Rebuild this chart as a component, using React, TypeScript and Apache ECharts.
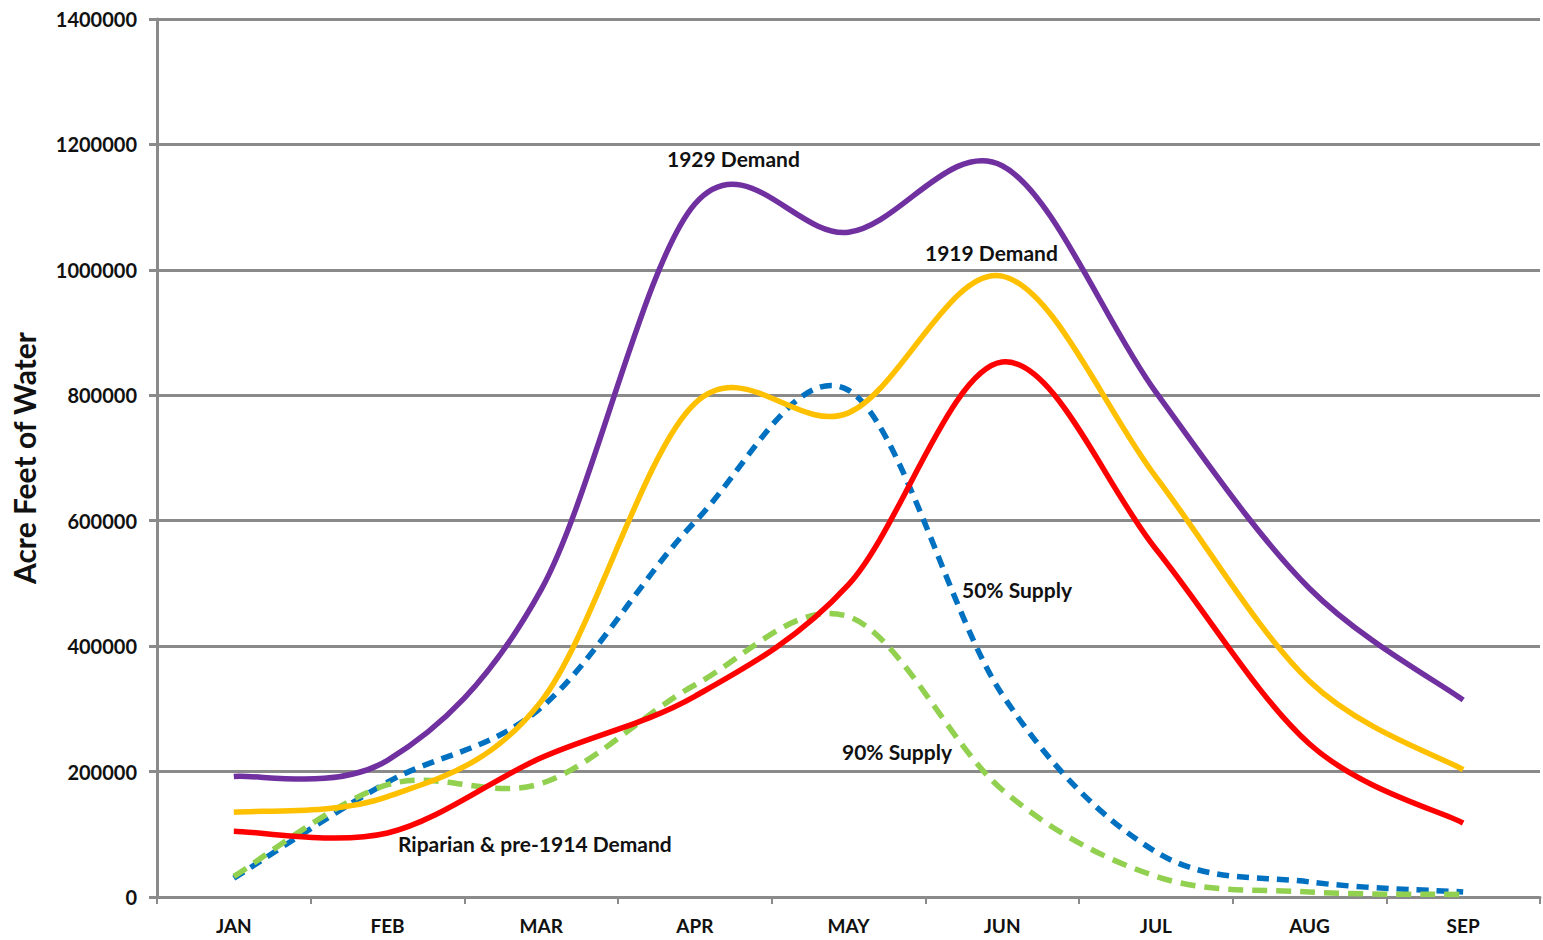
import React, { useEffect, useRef } from "react";
import * as echarts from "echarts";

const months = ["JAN", "FEB", "MAR", "APR", "MAY", "JUN", "JUL", "AUG", "SEP"];
const yTicks = [0, 200000, 400000, 600000, 800000, 1000000, 1200000, 1400000];
const demand1929 = [192000, 218000, 490000, 1105000, 1060000, 1166000, 805000, 492000, 314000];
const demand1919 = [135000, 160000, 312000, 787000, 772000, 990000, 670000, 344000, 203000];
const riparian = [105000, 102000, 222000, 320000, 498000, 853000, 555000, 244000, 118000];
const supply50 = [30000, 183000, 302000, 598000, 808000, 323000, 72000, 24000, 8000];
const supply90 = [33000, 179000, 181000, 338000, 447000, 171000, 33000, 8000, 4000];

const FONT = "Lato, 'Liberation Sans', sans-serif";

// Excel-like smoothed line (Catmull-Rom through the data points, via the chart's own axes)
function smoothSeries(name: string, values: number[], color: string, dash: number[] | null, z: number) {
  return {
    type: "custom",
    name,
    z,
    clip: false,
    data: values.map((v, i) => [i, v]),
    encode: { x: 0, y: 1 },
    renderItem: (params: any, api: any) => {
      if (params.dataIndex !== 0) return null;
      const pts = values.map((v, i) => api.coord([i, v]));
      let d = `M${pts[0][0]},${pts[0][1]}`;
      for (let i = 0; i < pts.length - 1; i++) {
        const p0 = pts[Math.max(i - 1, 0)];
        const p1 = pts[i];
        const p2 = pts[i + 1];
        const p3 = pts[Math.min(i + 2, pts.length - 1)];
        const c1x = p1[0] + (p2[0] - p0[0]) / 6;
        const c1y = p1[1] + (p2[1] - p0[1]) / 6;
        const c2x = p2[0] - (p3[0] - p1[0]) / 6;
        const c2y = p2[1] - (p3[1] - p1[1]) / 6;
        d += ` C${c1x},${c1y} ${c2x},${c2y} ${p2[0]},${p2[1]}`;
      }
      return {
        type: "path",
        shape: { pathData: d },
        style: {
          fill: "none",
          stroke: color,
          lineWidth: 5.5,
          lineDash: dash || undefined,
          lineCap: "butt",
          lineJoin: "round",
        },
      };
    },
  };
}

export default function App() {
  const ref = useRef<HTMLDivElement>(null);
  useEffect(() => {
    if (!ref.current) return;
    const chart = echarts.init(ref.current, undefined, { renderer: "svg" });
    const labelStyle = { fontFamily: FONT, fontWeight: "bold", fontSize: 21, fill: "#111" };
    chart.setOption({
      animation: false,
      backgroundColor: "#ffffff",
      grid: { left: 157, right: 3, top: 19, bottom: 43, containLabel: false, outerBoundsMode: "none" },
      xAxis: {
        type: "category",
        data: months,
        boundaryGap: true,
        axisLine: { lineStyle: { color: "#8a8a8a", width: 3 } },
        axisTick: { show: true, length: 7, lineStyle: { color: "#8a8a8a", width: 2 } },
        axisLabel: { margin: 19, fontFamily: FONT, fontWeight: "bold", fontSize: 19, color: "#111" },
      },
      yAxis: {
        type: "value",
        min: yTicks[0],
        max: yTicks[yTicks.length - 1],
        interval: yTicks[1] - yTicks[0],
        name: "Acre Feet of Water",
        nameLocation: "middle",
        nameGap: 118,
        nameTextStyle: { fontFamily: FONT, fontWeight: "bold", fontSize: 30, color: "#111" },
        axisLine: { show: true, lineStyle: { color: "#8a8a8a", width: 3 } },
        axisTick: { show: true, length: 8, lineStyle: { color: "#8a8a8a", width: 3 } },
        splitLine: { show: true, lineStyle: { color: "#8a8a8a", width: 3 } },
        axisLabel: {
          margin: 20,
          fontFamily: FONT,
          fontWeight: "bold",
          fontSize: 20,
          color: "#111",
          formatter: (v: number) => String(v),
        },
      },
      series: [
        smoothSeries("50% Supply", supply50, "#0070C0", [12, 8], 2),
        smoothSeries("90% Supply", supply90, "#92D050", [15, 9], 3),
        smoothSeries("1929 Demand", demand1929, "#7030A0", null, 4),
        smoothSeries("1919 Demand", demand1919, "#FFC000", null, 5),
        smoothSeries("Riparian & pre-1914 Demand", riparian, "#FF0000", null, 6),
      ],
      graphic: [
        { type: "text", left: 667, top: 148, style: { ...labelStyle, text: "1929 Demand" }, z: 10 },
        { type: "text", left: 925, top: 242, style: { ...labelStyle, text: "1919 Demand" }, z: 10 },
        { type: "text", left: 962, top: 579, style: { ...labelStyle, text: "50% Supply" }, z: 10 },
        { type: "text", left: 842, top: 741, style: { ...labelStyle, text: "90% Supply" }, z: 10 },
        { type: "text", left: 398, top: 833, style: { ...labelStyle, text: "Riparian & pre-1914 Demand" }, z: 10 },
      ],
    });
    return () => chart.dispose();
  }, []);
  return (
    <div
      ref={ref}
      style={{ position: "fixed", left: 0, top: 0, width: 1543, height: 940, background: "#fff" }}
    />
  );
}
